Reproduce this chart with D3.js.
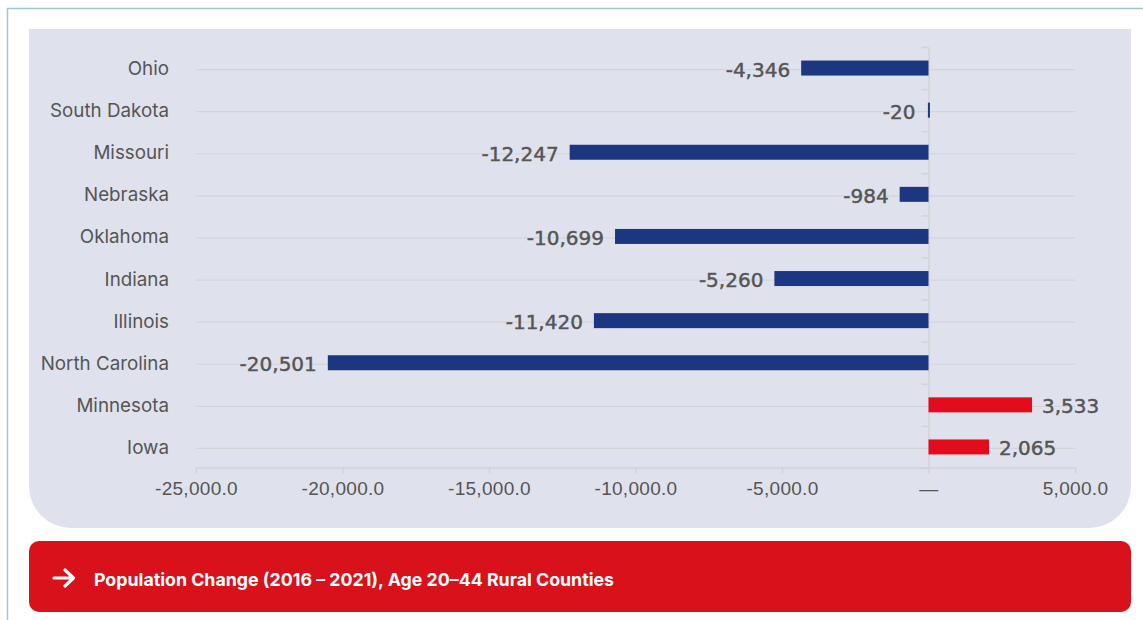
<!DOCTYPE html>
<html>
<head>
<meta charset="utf-8">
<script src="https://cdn.jsdelivr.net/npm/d3@7"></script>
<style>
  body { margin: 0; background: #fff; }
</style>
</head>
<body>
<svg id="chart" width="1143" height="620"></svg>
<script>
// data
const states = ["Ohio", "South Dakota", "Missouri", "Nebraska", "Oklahoma",
  "Indiana", "Illinois", "North Carolina", "Minnesota", "Iowa"];
const change = [-4346, -20, -12247, -984, -10699, -5260, -11420, -20501, 3533, 2065];
const xTicks = [-25000, -20000, -15000, -10000, -5000, 0, 5000];
const caption = "Population Change (2016 – 2021), Age 20–44 Rural Counties";

const rows = states.map((s, i) => ({ state: s, value: change[i] }));

const loc = d3.formatLocale({ decimal: ".", thousands: ",", grouping: [3], currency: ["$", ""], minus: "-" });
const fmtTick = loc.format(",.1f");
const fmtVal = loc.format(",d");

const svg = d3.select("#chart");

// outer frame lines
svg.append("path")
  .attr("d", "M7.5,620 V8.5 H1143")
  .attr("fill", "none")
  .attr("stroke", "#a0c4d0")
  .attr("stroke-width", 1.5);

// grey panel, square top, rounded bottom
const px0 = 29, px1 = 1131, py0 = 29, py1 = 528, r = 42;
const p = d3.path();
p.moveTo(px0, py0);
p.lineTo(px1, py0);
p.lineTo(px1, py1 - r);
p.arcTo(px1, py1, px1 - r, py1, r);
p.lineTo(px0 + r, py1);
p.arcTo(px0, py1, px0, py1 - r, r);
p.closePath();
svg.append("path").attr("d", p.toString()).attr("fill", "#dfe2ec");

const x = d3.scaleLinear().domain([-25000, 5000]).range([196, 1075]);
const y = d3.scaleBand().domain(states).range([47, 468]);
const barH = 15;
const mid = (d) => y(d) + y.bandwidth() / 2;

// gridlines
svg.append("g")
  .selectAll("line")
  .data(states)
  .join("line")
  .attr("x1", 196)
  .attr("x2", 1075)
  .attr("y1", (d) => mid(d) + 1.5)
  .attr("y2", (d) => mid(d) + 1.5)
  .attr("stroke", "#d3d4d8")
  .attr("stroke-width", 1.2);

// bottom axis
const xaxis = d3.axisBottom(x)
  .tickValues(xTicks)
  .tickSize(6)
  .tickSizeOuter(0)
  .tickFormat((d) => (d === 0 ? "—" : fmtTick(d)));
const gx = svg.append("g").attr("transform", "translate(0,467.5)").call(xaxis);
gx.select(".domain").attr("stroke", "#d2d3d6").attr("stroke-width", 1.5);
gx.selectAll(".tick line").attr("stroke", "#d2d3d6").attr("stroke-width", 1.5);
gx.selectAll(".tick text")
  .attr("y", 14)
  .attr("dy", "0.71em")
  .attr("fill", "#555")
  .style("font-family", "'Liberation Sans', Arial, sans-serif")
  .style("font-size", "19px")
  .style("letter-spacing", "0.3px");

// left axis with ticks at band edges
const yEdge = d3.scaleLinear().domain([0, states.length]).range([47, 468]);
const yaxis = d3.axisLeft(yEdge)
  .tickValues(d3.range(states.length + 1))
  .tickSize(7)
  .tickSizeOuter(0)
  .tickFormat("");
const gy = svg.append("g").attr("transform", "translate(928.5,0)").call(yaxis);
gy.select(".domain").attr("stroke", "#d2d3d6").attr("stroke-width", 1.5);
gy.selectAll(".tick line").attr("stroke", "#d2d3d6").attr("stroke-width", 1.5);

// category labels
svg.append("g")
  .selectAll("text")
  .data(states)
  .join("text")
  .attr("x", 169)
  .attr("y", (d) => mid(d) + 7)
  .attr("text-anchor", "end")
  .attr("fill", "#555")
  .style("font-family", "Inter, 'Noto Sans', sans-serif")
  .style("font-size", "18.8px")
  .text((d) => d);

// bars
svg.append("g")
  .selectAll("rect")
  .data(rows)
  .join("rect")
  .attr("x", (d) => x(Math.min(0, d.value)))
  .attr("width", (d) => Math.max(2, Math.abs(x(d.value) - x(0))))
  .attr("y", (d) => mid(d.state) - barH / 2)
  .attr("height", barH)
  .attr("fill", (d) => (d.value < 0 ? "#1c3781" : "#e20c1c"));

// value labels
svg.append("g")
  .selectAll("text")
  .data(rows)
  .join("text")
  .attr("x", (d) => (d.value < 0 ? Math.min(x(d.value), x(0) - 2) - 11 : x(d.value) + 10))
  .attr("y", (d) => mid(d.state) + 8.5)
  .attr("text-anchor", (d) => (d.value < 0 ? "end" : "start"))
  .attr("fill", "#555")
  .attr("stroke", "#555")
  .attr("stroke-width", 0.45)
  .style("font-family", "'DejaVu Sans', sans-serif")
  .style("font-size", "20px")
  .text((d) => fmtVal(d.value));

// red caption banner
svg.append("rect")
  .attr("x", 29).attr("y", 541)
  .attr("width", 1102).attr("height", 71)
  .attr("rx", 10)
  .attr("fill", "#d8111b");

// arrow
svg.append("path")
  .attr("d", "M54,578 H73 M65,570 L73.5,578 L65,586")
  .attr("fill", "none")
  .attr("stroke", "#fff")
  .attr("stroke-width", 3.2)
  .attr("stroke-linecap", "round")
  .attr("stroke-linejoin", "round");

svg.append("text")
  .attr("x", 94).attr("y", 585.5)
  .attr("fill", "#fff")
  .style("font-family", "Inter, 'Noto Sans', sans-serif")
  .style("font-size", "17.8px")
  .style("font-weight", "700")
  .text(caption);
</script>
</body>
</html>
